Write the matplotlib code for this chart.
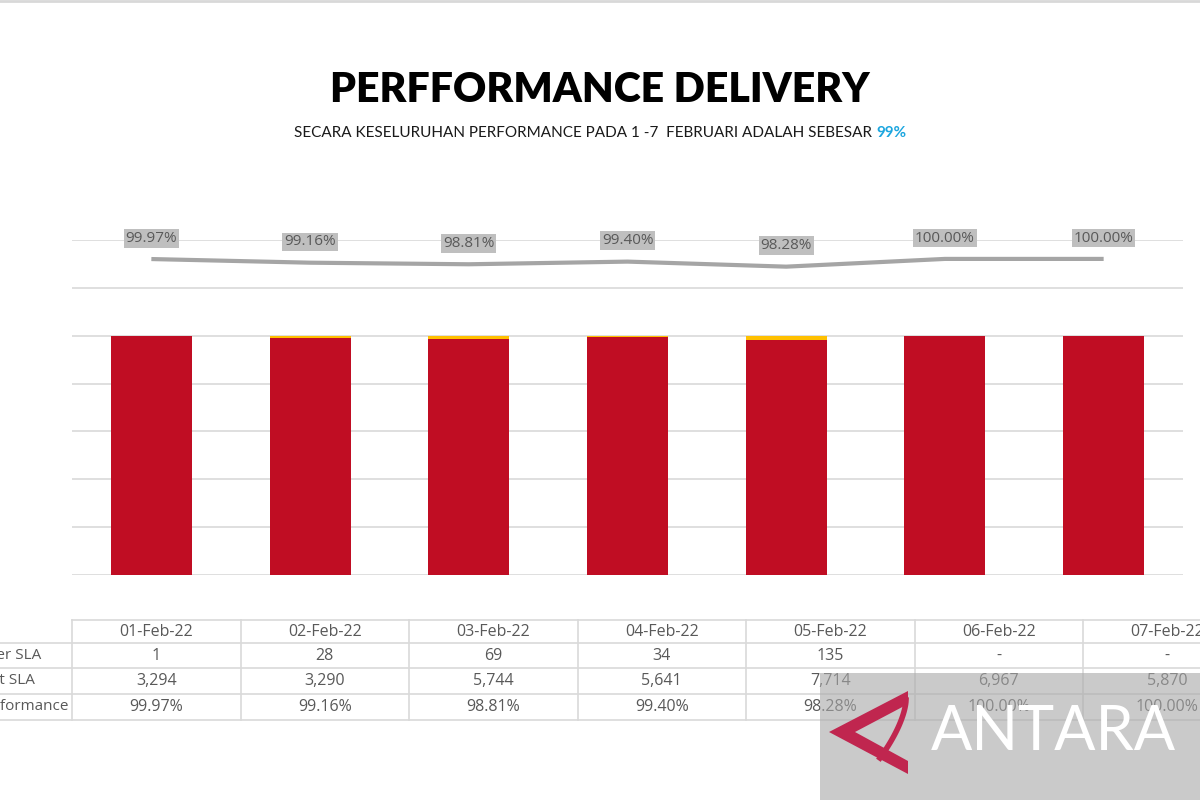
import matplotlib
matplotlib.use("Agg")
import matplotlib.pyplot as plt
from matplotlib.patches import Rectangle, Polygon
from matplotlib.lines import Line2D
import numpy as np

# ---- data ----
dates = ["01-Feb-22", "02-Feb-22", "03-Feb-22", "04-Feb-22", "05-Feb-22", "06-Feb-22", "07-Feb-22"]
over_sla = [1, 28, 69, 34, 135, 0, 0]
met_sla = [3294, 3290, 5744, 5641, 7714, 6967, 5870]
performance = [99.97, 99.16, 98.81, 99.40, 98.28, 100.00, 100.00]
row_labels = ["Over SLA", "Met SLA", "Performance"]

title = "PERFFORMANCE DELIVERY"
subtitle = "SECARA KESELURUHAN PERFORMANCE PADA 1 -7  FEBRUARI ADALAH SEBESAR "
subtitle_pct = "99%"

RED = "#C00D23"
GOLD = "#FFC000"
LINE = "#A5A5A5"
GRID = "#D9D9D9"
TXT = "#595959"

W, H = 1200, 800
fig = plt.figure(figsize=(12, 8), dpi=100)
fig.patch.set_facecolor("white")

def fx(x):
    return np.asarray(x) / W

def fy(y):
    return 1 - np.asarray(y) / H

# ---- main axes ----
ax = fig.add_axes([fx(72), fy(575), fx(1183) - fx(72), fy(240) - fy(575)])
x = np.arange(len(dates))
tot = np.array(met_sla) + np.array(over_sla)
met_frac = np.array(met_sla) / tot
over_frac = np.array(over_sla) / tot
ax.bar(x, met_frac, width=0.51, color=RED, zorder=3)
ax.bar(x, over_frac, bottom=met_frac, width=0.51, color=GOLD, zorder=3)
ax.set_xlim(-0.5, 6.5)
ax.set_ylim(0, 1.4)
ax.set_yticks(np.arange(0, 1.41, 0.2))
ax.yaxis.grid(True, color=GRID, linewidth=1.2, zorder=0)
ax.set_axisbelow(True)
for s in ax.spines.values():
    s.set_visible(False)

ax2 = ax.twinx()
ax2.set_ylim(29.8, 104.2)
ax2.plot(x, performance, color=LINE, linewidth=3, solid_capstyle="butt", zorder=4)
for s in ax2.spines.values():
    s.set_visible(False)
ax.tick_params(axis="both", which="both", left=False, right=False, bottom=False, top=False,
               labelleft=False, labelbottom=False, length=0)
ax2.tick_params(axis="both", which="both", left=False, right=False, bottom=False, top=False,
                labelright=False, labelleft=False, labelbottom=False, length=0)
for xi, p in zip(x, performance):
    ax2.annotate(f"{p:.2f}%", (xi, p), xytext=(0, 15), textcoords="offset points",
                 ha="center", va="center", fontsize=11, color=TXT, family="Open Sans",
                 bbox=dict(boxstyle="square,pad=0.12", fc="#BFBFBF", ec="none"))

# ---- title ----
fig.text(0.5, fy(90), title, ha="center", va="center", fontsize=29.5,
         fontweight="heavy", family="Lato", color="black")
t1 = fig.text(fx(292), fy(133), subtitle, ha="left", va="center", fontsize=11,
              family="Lato", color="#1A1A1A")
fig.canvas.draw()
bb = t1.get_window_extent()
t2 = fig.text(bb.x1 / W, fy(133), subtitle_pct, ha="left", va="center", fontsize=11,
              family="Lato", fontweight="bold", color="#1CA6DF")
fig.canvas.draw()
bb2 = t2.get_window_extent()
shift = (600 - (bb.x0 + bb2.x1) / 2) / W
t1.set_x(t1.get_position()[0] + shift)
t2.set_x(t2.get_position()[0] + shift)

# top frame line
fig.add_artist(Line2D([0, 1], [fy(1), fy(1)], color="#D8D8D8", linewidth=2))

# ---- table ----
col0 = 72
colw = 168.5
rows_y = [620, 643, 668, 694, 720]
ncol = len(dates)
fig.add_artist(Line2D([fx(col0), 1], [fy(rows_y[0])] * 2, color=GRID, linewidth=1.2))
for yy in rows_y[1:]:
    fig.add_artist(Line2D([0, 1], [fy(yy)] * 2, color=GRID, linewidth=1.2))
for i in range(ncol + 1):
    xx = col0 + colw * i
    fig.add_artist(Line2D([fx(xx)] * 2, [fy(rows_y[0]), fy(rows_y[-1])], color=GRID, linewidth=1.2))

def fmt_int(v):
    return "-" if v == 0 else f"{v:,}"

cells = [dates, [fmt_int(v) for v in over_sla], [fmt_int(v) for v in met_sla],
         [f"{p:.2f}%" for p in performance]]
for r, rowvals in enumerate(cells):
    yc = (rows_y[r] + rows_y[r + 1]) / 2
    for c, val in enumerate(rowvals):
        xc = col0 + colw * (c + 0.5)
        fig.text(fx(xc), fy(yc), val, ha="center", va="center", fontsize=11.5,
                 family="Open Sans", color=TXT)
for r, lab in enumerate(row_labels):
    yc = (rows_y[r + 1] + rows_y[r + 2]) / 2
    fig.text(fx(-23), fy(yc), lab, ha="left", va="center", fontsize=11,
             family="Open Sans", color=TXT)

# ---- watermark ----
fig.add_artist(Rectangle((fx(820), 0), 1 - fx(820), fy(673), transform=fig.transFigure,
                         facecolor="#A8A8A8", alpha=0.6, edgecolor="none", zorder=5))
logo = "#C0264F"
fig.add_artist(Polygon([(fx(829), fy(732)), (fx(908), fy(691)), (fx(908), fy(704)),
                        (fx(855), fy(732)), (fx(908), fy(761)), (fx(908), fy(774))],
                       closed=True, transform=fig.transFigure, facecolor=logo,
                       edgecolor="none", zorder=6))
tt = np.linspace(0, 1, 30)
cx = 906 - 26 * tt ** 1.6
cy = 700 + 58 * tt
fig.add_artist(Line2D(fx(cx), fy(cy), color=logo, linewidth=4, zorder=6))
fig.text(fx(1053), fy(732), "ANTARA", ha="center", va="center", fontsize=44,
         family="Lato", color="white", zorder=7)

fig.savefig("out.png", dpi=100)
